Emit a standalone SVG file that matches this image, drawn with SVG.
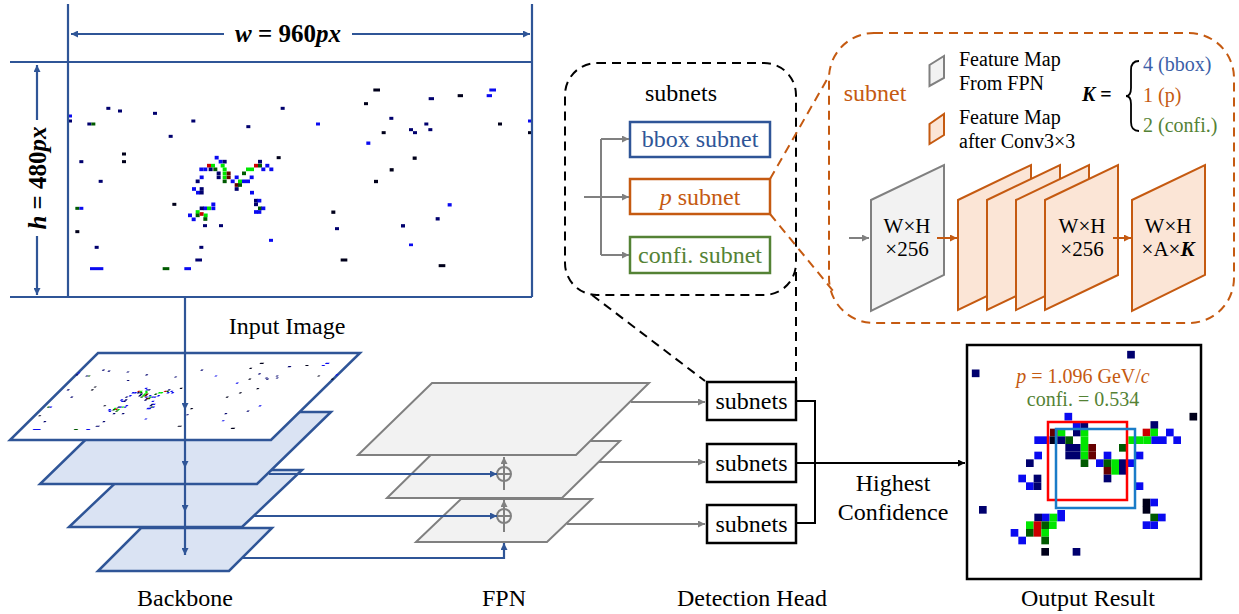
<svg xmlns="http://www.w3.org/2000/svg" xmlns:xlink="http://www.w3.org/1999/xlink" width="1239" height="614" viewBox="0 0 1239 614">
<style>
  text { font-family: "Liberation Serif", "Times New Roman", serif; fill: #000; }
  .lbl { font-size: 24px; text-anchor: middle; }
  .sm { font-size: 20px; }
  .bl { fill: #0a0af0; }
  .nv { fill: #00006e; }
  .bk { fill: #00001a; }
  .gr { fill: #00e600; }
  .dg { fill: #005a00; }
  .rd { fill: #cc0000; }
  .dr { fill: #660000; }
  .blue-ln { stroke: #2f5597; stroke-width: 2.2; fill: none; }
  .gray-ln { stroke: #808080; stroke-width: 2; fill: none; }
  .blk-ln { stroke: #000; stroke-width: 2; fill: none; }
  .org-ln { stroke: #c55a11; stroke-width: 2; fill: none; }
  .bb-layer { fill: #dae3f3; stroke: #2f5597; stroke-width: 2.5; }
  .fpn-layer { fill: #f2f2f2; stroke: #808080; stroke-width: 2; }
  .fm-gray { fill: #f2f2f2; stroke: #808080; stroke-width: 2; }
  .fm-org { fill: #fbe5d6; stroke: #c55a11; stroke-width: 2; }
  .box { fill: #fff; stroke: #000; stroke-width: 2.5; }
  .orange { fill: #c55a11; }
  .green { fill: #548235; }
  .navy { fill: #2f5597; }
</style>
<defs>
  <marker id="ah-blue" viewBox="0 0 10 10" refX="10" refY="5" markerWidth="7" markerHeight="7" markerUnits="userSpaceOnUse" orient="auto-start-reverse"><path d="M0,0 L10,5 L0,10 z" fill="#2f5597"/></marker>
  <marker id="ah-gray" viewBox="0 0 10 10" refX="10" refY="5" markerWidth="7" markerHeight="7" markerUnits="userSpaceOnUse" orient="auto"><path d="M0,0 L10,5 L0,10 z" fill="#808080"/></marker>
  <marker id="ah-black" viewBox="0 0 10 10" refX="10" refY="5" markerWidth="7" markerHeight="7" markerUnits="userSpaceOnUse" orient="auto"><path d="M0,0 L10,5 L0,10 z" fill="#000"/></marker>
  <marker id="ah-orange" viewBox="0 0 10 10" refX="10" refY="5" markerWidth="7" markerHeight="7" markerUnits="userSpaceOnUse" orient="auto"><path d="M0,0 L10,5 L0,10 z" fill="#c55a11"/></marker>

  <!-- hit pattern of the detector image (960x480 px) -->
  <g id="imgpix">
    <g transform="translate(60,60) scale(0.33333)">
      <rect class="nv" x="139" y="140.5" width="12" height="9"/>
      <rect class="nv" x="174" y="148.5" width="12" height="9"/>
      <rect class="nv" x="279" y="155.5" width="12" height="9"/>
      <rect class="bl" x="24" y="163.5" width="12" height="9"/>
      <rect class="nv" x="24" y="178.5" width="12" height="9"/>
      <rect class="nv" x="82" y="187.5" width="12" height="9"/>
      <rect class="dg" x="94" y="187.5" width="12" height="9"/>
      <rect class="nv" x="394" y="178.5" width="12" height="9"/>
      <rect class="nv" x="559" y="195.5" width="12" height="9"/>
      <rect class="nv" x="662" y="140.5" width="12" height="9"/>
      <rect class="nv" x="326" y="224.5" width="12" height="9"/>
      <rect class="bk" x="186" y="277.5" width="12" height="9"/>
      <rect class="bk" x="186" y="300.5" width="12" height="9"/>
      <rect class="nv" x="58" y="300.5" width="12" height="9"/>
      <rect class="nv" x="116" y="359.5" width="12" height="9"/>
      <rect class="bk" x="650" y="288.5" width="12" height="9"/>
      <rect class="bk" x="337" y="428.5" width="12" height="9"/>
      <rect class="dg" x="46" y="440.5" width="12" height="9"/>
      <rect class="bl" x="58" y="440.5" width="12" height="9"/>
      <rect class="bk" x="46" y="510.5" width="12" height="9"/>
      <rect class="nv" x="104" y="557.5" width="12" height="9"/>
      <rect class="nv" x="418" y="557.5" width="12" height="9"/>
      <rect class="bl" x="627" y="536.5" width="12" height="9"/>
      <rect class="nv" x="406" y="595.5" width="20" height="9"/>
      <rect class="bl" x="90" y="621.5" width="40" height="9"/>
      <rect class="dg" x="308" y="621.5" width="20" height="9"/>
      <rect class="bl" x="373" y="621.5" width="20" height="9"/>
      <rect class="nv" x="429" y="492.5" width="12" height="9"/>
      <rect class="nv" x="477" y="492.5" width="12" height="9"/>
      <!-- main track cluster -->
      <rect class="bl" x="464" y="287.5" width="12" height="11"/>
      <rect class="bl" x="476" y="299.5" width="12" height="11"/>
      <rect class="nv" x="488" y="299.5" width="12" height="11"/>
      <rect class="rd" x="441" y="311.5" width="12" height="11"/>
      <rect class="gr" x="453" y="311.5" width="12" height="11"/>
      <rect class="gr" x="482" y="311.5" width="12" height="11"/>
      <rect class="bl" x="418" y="322.5" width="12" height="11"/>
      <rect class="bl" x="430" y="322.5" width="12" height="11"/>
      <rect class="nv" x="446" y="322.5" width="12" height="11"/>
      <rect class="dg" x="460" y="322.5" width="12" height="11"/>
      <rect class="gr" x="488" y="322.5" width="12" height="11"/>
      <rect class="nv" x="470" y="334.5" width="12" height="11"/>
      <rect class="nv" x="470" y="346.5" width="12" height="11"/>
      <rect class="gr" x="488" y="334.5" width="12" height="11"/>
      <rect class="gr" x="488" y="346.5" width="12" height="11"/>
      <rect class="dr" x="500" y="334.5" width="12" height="11"/>
      <rect class="dr" x="500" y="346.5" width="12" height="11"/>
      <rect class="dg" x="488" y="358.5" width="12" height="11"/>
      <rect class="bl" x="419" y="346.5" width="12" height="11"/>
      <rect class="nv" x="407" y="358.5" width="12" height="11"/>
      <rect class="bl" x="512" y="358.5" width="12" height="11"/>
      <rect class="bl" x="524" y="346.5" width="12" height="11"/>
      <rect class="gr" x="534" y="358.5" width="12" height="11"/>
      <rect class="dr" x="524" y="369.5" width="12" height="11"/>
      <rect class="nv" x="524" y="381.5" width="12" height="11"/>
      <rect class="bl" x="546" y="358.5" width="12" height="11"/>
      <rect class="bl" x="558" y="358.5" width="12" height="11"/>
      <rect class="bl" x="569" y="346.5" width="12" height="11"/>
      <rect class="dg" x="546" y="334.5" width="12" height="11"/>
      <rect class="dg" x="534" y="369.5" width="12" height="11"/>
      <rect class="gr" x="558" y="322.5" width="12" height="11"/>
      <rect class="gr" x="570" y="322.5" width="12" height="11"/>
      <rect class="rd" x="582" y="311.5" width="12" height="11"/>
      <rect class="dg" x="594" y="311.5" width="12" height="11"/>
      <rect class="nv" x="594" y="299.5" width="12" height="11"/>
      <rect class="bl" x="604" y="322.5" width="12" height="11"/>
      <rect class="bl" x="616" y="311.5" width="12" height="11"/>
      <rect class="bl" x="628" y="322.5" width="12" height="11"/>
      <rect class="bl" x="396" y="381.5" width="12" height="11"/>
      <rect class="bl" x="408" y="392.5" width="12" height="11"/>
      <rect class="nv" x="419" y="392.5" width="12" height="11"/>
      <rect class="nv" x="419" y="381.5" width="12" height="11"/>
      <rect class="bl" x="570" y="392.5" width="12" height="11"/>
      <rect class="nv" x="582" y="416.5" width="12" height="11"/>
      <rect class="bl" x="592" y="416.5" width="12" height="11"/>
      <rect class="nv" x="582" y="427.5" width="12" height="11"/>
      <rect class="dg" x="594" y="439.5" width="12" height="11"/>
      <rect class="bl" x="604" y="439.5" width="12" height="11"/>
      <rect class="bl" x="582" y="450.5" width="12" height="11"/>
      <rect class="bl" x="592" y="450.5" width="12" height="11"/>
      <!-- secondary cluster -->
      <rect class="bl" x="454" y="427.5" width="12" height="11"/>
      <rect class="bl" x="454" y="439.5" width="12" height="11"/>
      <rect class="gr" x="441" y="439.5" width="12" height="11"/>
      <rect class="bl" x="429" y="439.5" width="12" height="11"/>
      <rect class="nv" x="419" y="439.5" width="12" height="11"/>
      <rect class="gr" x="407" y="450.5" width="12" height="11"/>
      <rect class="dg" x="407" y="460.5" width="12" height="11"/>
      <rect class="rd" x="419" y="456.5" width="12" height="11"/>
      <rect class="gr" x="431" y="460.5" width="12" height="11"/>
      <rect class="bl" x="384" y="460.5" width="12" height="11"/>
      <rect class="bl" x="395" y="472.5" width="12" height="11"/>
      <rect class="dg" x="430" y="471.5" width="12" height="11"/>
    </g>
    <g transform="translate(300,60) scale(0.33333)">
      <rect class="bk" x="220" y="85.5" width="20" height="9"/>
      <rect class="bk" x="192" y="126.5" width="12" height="9"/>
      <rect class="nv" x="386" y="111.5" width="16" height="9"/>
      <rect class="bk" x="473" y="102.5" width="16" height="9"/>
      <rect class="bl" x="568" y="85.5" width="20" height="9"/>
      <rect class="bl" x="560" y="102.5" width="16" height="9"/>
      <rect class="bl" x="48" y="187.5" width="12" height="9"/>
      <rect class="nv" x="268" y="170.5" width="12" height="9"/>
      <rect class="bk" x="245" y="213.5" width="12" height="9"/>
      <rect class="nv" x="327" y="204.5" width="12" height="9"/>
      <rect class="nv" x="339" y="213.5" width="12" height="9"/>
      <rect class="nv" x="373" y="187.5" width="12" height="9"/>
      <rect class="nv" x="385" y="204.5" width="12" height="9"/>
      <rect class="bk" x="594" y="187.5" width="12" height="9"/>
      <rect class="bl" x="684" y="178.5" width="12" height="9"/>
      <rect class="bk" x="684" y="213.5" width="12" height="9"/>
      <rect class="bl" x="199" y="244.5" width="12" height="10"/>
      <rect class="bk" x="338" y="289.5" width="12" height="10"/>
      <rect class="bk" x="269" y="324.5" width="12" height="10"/>
      <rect class="bk" x="222" y="359.5" width="12" height="10"/>
      <rect class="bl" x="443" y="429.5" width="12" height="10"/>
      <rect class="bk" x="94" y="451.5" width="12" height="10"/>
      <rect class="nv" x="407" y="471.5" width="12" height="10"/>
      <rect class="nv" x="105" y="501.5" width="12" height="9"/>
      <rect class="nv" x="303" y="492.5" width="12" height="10"/>
      <rect class="bl" x="327" y="550.5" width="12" height="8"/>
      <rect class="bk" x="122" y="595.5" width="20" height="9"/>
      <rect class="bk" x="416" y="612.5" width="20" height="9"/>
    </g>
  </g>
</defs>

<!-- input image with its size annotation -->
<g id="input-image">
  <rect x="68" y="62" width="464" height="235" fill="#fff"/>
  <use href="#imgpix"/>
  <g class="blue-ln" stroke-width="2.5">
    <line x1="10" y1="62" x2="532" y2="62"/>
    <line x1="10" y1="297" x2="532" y2="297"/>
    <line x1="68" y1="4" x2="68" y2="297"/>
    <line x1="532" y1="4" x2="532" y2="297"/>
  </g>
  <g class="blue-ln" stroke-width="1.8">
    <line x1="71" y1="34" x2="224" y2="34" marker-start="url(#ah-blue)"/>
    <line x1="352" y1="34" x2="530" y2="34" marker-end="url(#ah-blue)"/>
    <line x1="37" y1="65" x2="37" y2="120" marker-start="url(#ah-blue)"/>
    <line x1="37" y1="236" x2="37" y2="295" marker-end="url(#ah-blue)"/>
  </g>
  <text x="288" y="42" font-size="25" font-weight="bold" text-anchor="middle"><tspan font-style="italic">w</tspan> = 960<tspan font-style="italic">px</tspan></text>
  <text transform="translate(46,178) rotate(-90)" font-size="25" font-weight="bold" text-anchor="middle"><tspan font-style="italic">h</tspan> = 480<tspan font-style="italic">px</tspan></text>
  <text class="lbl" x="287" y="334">Input Image</text>
</g>

<!-- backbone: stacked feature levels -->
<g id="backbone">
  <polygon class="bb-layer" points="141,528 272,528 229,571 98,571"/>
  <polygon class="bb-layer" points="129,470 302,470 242,527 69,527"/>
  <polygon class="bb-layer" points="114,412 331,412 257,484 40,484"/>
  <polygon class="bb-layer" fill="#fff" style="fill:#fff" points="98,353 360,353 271,440 10,440"/>
  <use href="#imgpix" transform="matrix(0.5647 0 -0.3745 0.3702 82.82 330.05)"/>
  <text class="lbl" x="185" y="606">Backbone</text>
</g>

<!-- feature pyramid network -->
<g id="fpn">
  <polygon class="fpn-layer" points="461,499 592,499 547,542 416,542"/>
  <polygon class="fpn-layer" points="445,441 620,441 562,498 387,498"/>
  <polygon class="fpn-layer" points="432,383 649,383 576,455 358,455"/>
  <g class="gray-ln">
    <circle cx="504" cy="474" r="7"/>
    <line x1="497" y1="474" x2="511" y2="474"/>
    <circle cx="504" cy="516" r="7"/>
    <line x1="497" y1="516" x2="511" y2="516"/>
    <line x1="504" y1="490" x2="504" y2="457" marker-end="url(#ah-gray)"/>
    <line x1="504" y1="532" x2="504" y2="500" marker-end="url(#ah-gray)"/>
  </g>
  <text class="lbl" x="504" y="606">FPN</text>
</g>

<!-- detection head -->
<g id="detection-head">
  <rect class="box" x="707" y="382" width="89" height="38"/>
  <text class="lbl" x="751.5" y="409">subnets</text>
  <rect class="box" x="707" y="444" width="89" height="38"/>
  <text class="lbl" x="751.5" y="471">subnets</text>
  <rect class="box" x="707" y="505" width="89" height="38"/>
  <text class="lbl" x="751.5" y="532">subnets</text>
  <text class="lbl" x="752" y="606">Detection Head</text>
</g>

<!-- output result -->
<g id="output-result">
  <rect class="box" x="967" y="345" width="234" height="234"/>
  <g transform="translate(940,340) scale(0.33333)">
    <rect class="nv" x="561.5" y="32.5" width="23" height="23"/>
    <rect class="nv" x="95.5" y="88.5" width="23" height="23"/>
    <rect class="bk" x="748.5" y="218.5" width="23" height="23"/>
    <rect class="bl" x="373.5" y="218.5" width="23" height="23"/>
    <rect class="bl" x="398.5" y="243.5" width="23" height="23"/>
    <rect class="nv" x="421.5" y="243.5" width="23" height="23"/>
    <rect class="nv" x="631.5" y="243.5" width="23" height="23"/>
    <rect class="dr" x="330" y="266" width="23" height="23"/>
    <rect class="gr" x="353" y="266" width="23" height="23"/>
    <rect class="nv" x="399" y="266" width="23" height="23"/>
    <rect class="gr" x="422" y="266" width="23" height="23"/>
    <rect class="rd" x="608" y="266" width="23" height="23"/>
    <rect class="gr" x="631" y="266" width="23" height="23"/>
    <rect class="bl" x="678" y="266" width="23" height="23"/>
    <rect class="bl" x="283" y="289" width="23" height="23"/>
    <rect class="bl" x="306" y="289" width="23" height="23"/>
    <rect class="bk" x="330" y="289" width="23" height="23"/>
    <rect class="nv" x="353" y="289" width="23" height="23"/>
    <rect class="dg" x="376" y="289" width="23" height="23"/>
    <rect class="gr" x="422" y="289" width="23" height="23"/>
    <rect class="gr" x="565" y="289" width="23" height="23"/>
    <rect class="gr" x="588" y="289" width="23" height="23"/>
    <rect class="gr" x="611" y="289" width="23" height="23"/>
    <rect class="bl" x="634" y="289" width="23" height="23"/>
    <rect class="bl" x="657" y="289" width="23" height="23"/>
    <rect class="bl" x="700" y="289" width="23" height="23"/>
    <rect class="nv" x="376" y="312" width="23" height="23"/>
    <rect class="nv" x="399" y="312" width="23" height="23"/>
    <rect class="gr" x="422" y="312" width="23" height="23"/>
    <rect class="dr" x="445" y="312" width="23" height="23"/>
    <rect class="dg" x="537" y="312" width="23" height="23"/>
    <rect class="bl" x="283" y="335" width="23" height="23"/>
    <rect class="nv" x="376" y="335" width="23" height="23"/>
    <rect class="nv" x="399" y="335" width="23" height="23"/>
    <rect class="gr" x="422" y="335" width="23" height="23"/>
    <rect class="dr" x="445" y="335" width="23" height="23"/>
    <rect class="bl" x="491" y="335" width="23" height="23"/>
    <rect class="bl" x="587" y="335" width="23" height="23"/>
    <rect class="nv" x="258" y="358" width="23" height="23"/>
    <rect class="dg" x="422" y="358" width="23" height="23"/>
    <rect class="bl" x="468" y="358" width="23" height="23"/>
    <rect class="dg" x="491" y="358" width="23" height="23"/>
    <rect class="gr" x="514" y="358" width="23" height="23"/>
    <rect class="nv" x="537" y="358" width="23" height="23"/>
    <rect class="bl" x="560" y="358" width="23" height="23"/>
    <rect class="dr" x="491" y="381" width="23" height="23"/>
    <rect class="gr" x="514" y="381" width="23" height="23"/>
    <rect class="nv" x="537" y="381" width="23" height="23"/>
    <rect class="bl" x="235" y="404" width="23" height="23"/>
    <rect class="nv" x="281" y="404" width="23" height="23"/>
    <rect class="nv" x="491" y="404" width="23" height="23"/>
    <rect class="bl" x="258" y="427" width="23" height="23"/>
    <rect class="nv" x="281" y="427" width="23" height="23"/>
    <rect class="bl" x="587" y="427" width="23" height="23"/>
    <rect class="bk" x="608" y="476" width="23" height="23"/>
    <rect class="bl" x="631" y="476" width="23" height="23"/>
    <rect class="nv" x="117" y="498" width="23" height="23"/>
    <rect class="bk" x="608" y="498" width="23" height="23"/>
    <rect class="nv" x="283" y="521" width="23" height="23"/>
    <rect class="bl" x="306" y="521" width="23" height="23"/>
    <rect class="gr" x="329" y="521" width="23" height="23"/>
    <rect class="bl" x="352" y="510" width="23" height="34"/>
    <rect class="dg" x="631" y="521" width="23" height="23"/>
    <rect class="bl" x="654" y="521" width="23" height="23"/>
    <rect class="gr" x="258" y="544" width="23" height="23"/>
    <rect class="rd" x="281" y="544" width="23" height="23"/>
    <rect class="dg" x="304" y="544" width="23" height="23"/>
    <rect class="gr" x="327" y="544" width="23" height="23"/>
    <rect class="bl" x="608" y="544" width="23" height="23"/>
    <rect class="bl" x="631" y="544" width="23" height="23"/>
    <rect class="bl" x="212" y="567" width="23" height="23"/>
    <rect class="dg" x="258" y="567" width="23" height="23"/>
    <rect class="rd" x="281" y="567" width="23" height="23"/>
    <rect class="gr" x="304" y="567" width="23" height="23"/>
    <rect class="bl" x="235" y="590" width="23" height="23"/>
    <rect class="dg" x="304" y="590" width="23" height="23"/>
    <rect class="bk" x="304" y="624" width="23" height="23"/>
    <rect class="nv" x="398" y="624" width="23" height="23"/>
  </g>
  <rect x="1048" y="422" width="79" height="78" fill="none" stroke="#ff0000" stroke-width="2.5"/>
  <rect x="1056" y="429" width="79" height="79" fill="none" stroke="#1a7cc8" stroke-width="2.5"/>
  <text x="1083" y="383" font-size="20" text-anchor="middle" class="orange"><tspan font-style="italic">p</tspan> = 1.096 GeV/<tspan font-style="italic">c</tspan></text>
  <text x="1083" y="406" font-size="20" text-anchor="middle" class="green">confi. = 0.534</text>
  <text class="lbl" x="1088" y="606">Output Result</text>
</g>

<!-- subnets overview -->
<g id="subnets">
  <rect x="565" y="63" width="231" height="232" rx="32" fill="none" stroke="#000" stroke-width="2" stroke-dasharray="9 6"/>
  <text class="lbl" x="681" y="101">subnets</text>
  <rect x="630" y="122" width="140" height="35" fill="#fff" stroke="#2f5597" stroke-width="2.5"/>
  <text class="lbl navy" x="700" y="147">bbox subnet</text>
  <rect x="630" y="179" width="140" height="35" fill="#fff" stroke="#c55a11" stroke-width="2.5"/>
  <text class="lbl orange" x="700" y="205"><tspan font-style="italic">p</tspan> subnet</text>
  <rect x="630" y="237" width="140" height="36" fill="#fff" stroke="#548235" stroke-width="2.5"/>
  <text class="lbl green" x="700" y="263">confi. subnet</text>
  <g class="gray-ln">
    <line x1="601" y1="139" x2="601" y2="255"/>
    <line x1="584" y1="197" x2="629" y2="197" marker-end="url(#ah-gray)"/>
    <line x1="601" y1="139" x2="629" y2="139" marker-end="url(#ah-gray)"/>
    <line x1="601" y1="255" x2="629" y2="255" marker-end="url(#ah-gray)"/>
  </g>
</g>

<!-- p subnet detail -->
<g id="subnet-detail">
  <rect x="829" y="33" width="405" height="290" rx="45" fill="none" stroke="#c55a11" stroke-width="2" stroke-dasharray="9 6"/>
  <text x="875" y="101" font-size="24" text-anchor="middle" class="orange">subnet</text>
  <polygon class="fm-gray" points="929.5,65 944,56 944,78 929.5,86"/>
  <text class="sm" x="959" y="66">Feature Map</text>
  <text class="sm" x="959" y="90">From FPN</text>
  <polygon class="fm-org" points="929.5,124 944,114 944,135 929.5,144"/>
  <text class="sm" x="959" y="124">Feature Map</text>
  <text class="sm" x="959" y="148">after Conv3×3</text>
  <text class="sm" x="1082" y="101" font-weight="bold" font-style="italic">K <tspan font-style="normal">=</tspan></text>
  <path d="M1139,61 Q1131,61 1131,70 L1131,88 Q1131,96 1126,96 Q1131,96 1131,104 L1131,122 Q1131,131 1139,131" fill="none" stroke="#000" stroke-width="1.8"/>
  <text class="sm" x="1143" y="71" fill="#3b5ea8" style="fill:#3b5ea8">4 (bbox)</text>
  <text class="sm orange" x="1143" y="102">1 (p)</text>
  <text class="sm green" x="1143" y="132">2 (confi.)</text>

  <line class="gray-ln" x1="849" y1="238" x2="869" y2="238" marker-end="url(#ah-gray)"/>
  <polygon class="fm-gray" points="871,200 944,165 944,275 871,311"/>
  <text x="907" y="233" font-size="21" text-anchor="middle">W×H</text>
  <text x="907" y="256" font-size="21" text-anchor="middle">×256</text>
  <line class="org-ln" x1="937" y1="238" x2="957" y2="238" marker-end="url(#ah-orange)"/>
  <polygon class="fm-org" points="958,200 1031,165 1031,275 958,310"/>
  <polygon class="fm-org" points="987,200 1060,165 1060,275 987,310"/>
  <polygon class="fm-org" points="1016,200 1089,165 1089,275 1016,310"/>
  <polygon class="fm-org" points="1045,200 1118,165 1118,275 1045,310"/>
  <text x="1082" y="233" font-size="21" text-anchor="middle">W×H</text>
  <text x="1082" y="256" font-size="21" text-anchor="middle">×256</text>
  <line class="org-ln" x1="1113" y1="238" x2="1131" y2="238" marker-end="url(#ah-orange)"/>
  <polygon class="fm-org" points="1132,200 1205,165 1205,275 1132,311"/>
  <text x="1168" y="233" font-size="21" text-anchor="middle">W×H</text>
  <text x="1168" y="256" font-size="21" text-anchor="middle">×A×<tspan font-weight="bold" font-style="italic">K</tspan></text>
</g>

<!-- connectors -->
<g id="connectors">
  <g class="blue-ln">
    <line x1="185" y1="297" x2="185" y2="410" marker-end="url(#ah-blue)"/>
    <line x1="185" y1="410" x2="185" y2="468" marker-end="url(#ah-blue)"/>
    <line x1="185" y1="468" x2="185" y2="512" marker-end="url(#ah-blue)"/>
    <line x1="185" y1="512" x2="185" y2="555" marker-end="url(#ah-blue)"/>
    <path d="M269,474 H497" marker-end="url(#ah-blue)"/>
    <path d="M253,516 H497" marker-end="url(#ah-blue)"/>
    <path d="M242,558 H504 V543" marker-end="url(#ah-blue)"/>
  </g>
  <g class="gray-ln">
    <path d="M631,402 H705" marker-end="url(#ah-gray)"/>
    <path d="M599,462 H705" marker-end="url(#ah-gray)"/>
    <path d="M567,524 H705" marker-end="url(#ah-gray)"/>
  </g>
  <g class="blk-ln">
    <path d="M796,401 H815 V523 H796"/>
    <path d="M796,463 H965" marker-end="url(#ah-black)"/>
  </g>
  <text class="lbl" x="893" y="491">Highest</text>
  <text class="lbl" x="893" y="520">Confidence</text>
  <g stroke="#000" stroke-width="2" stroke-dasharray="9 6" fill="none">
    <line x1="592" y1="295" x2="705" y2="381"/>
    <line x1="796" y1="272" x2="796" y2="382"/>
  </g>
  <g class="org-ln" stroke-dasharray="9 6">
    <line x1="770" y1="179" x2="829" y2="76"/>
    <line x1="770" y1="214" x2="834" y2="292"/>
  </g>
</g>
</svg>
